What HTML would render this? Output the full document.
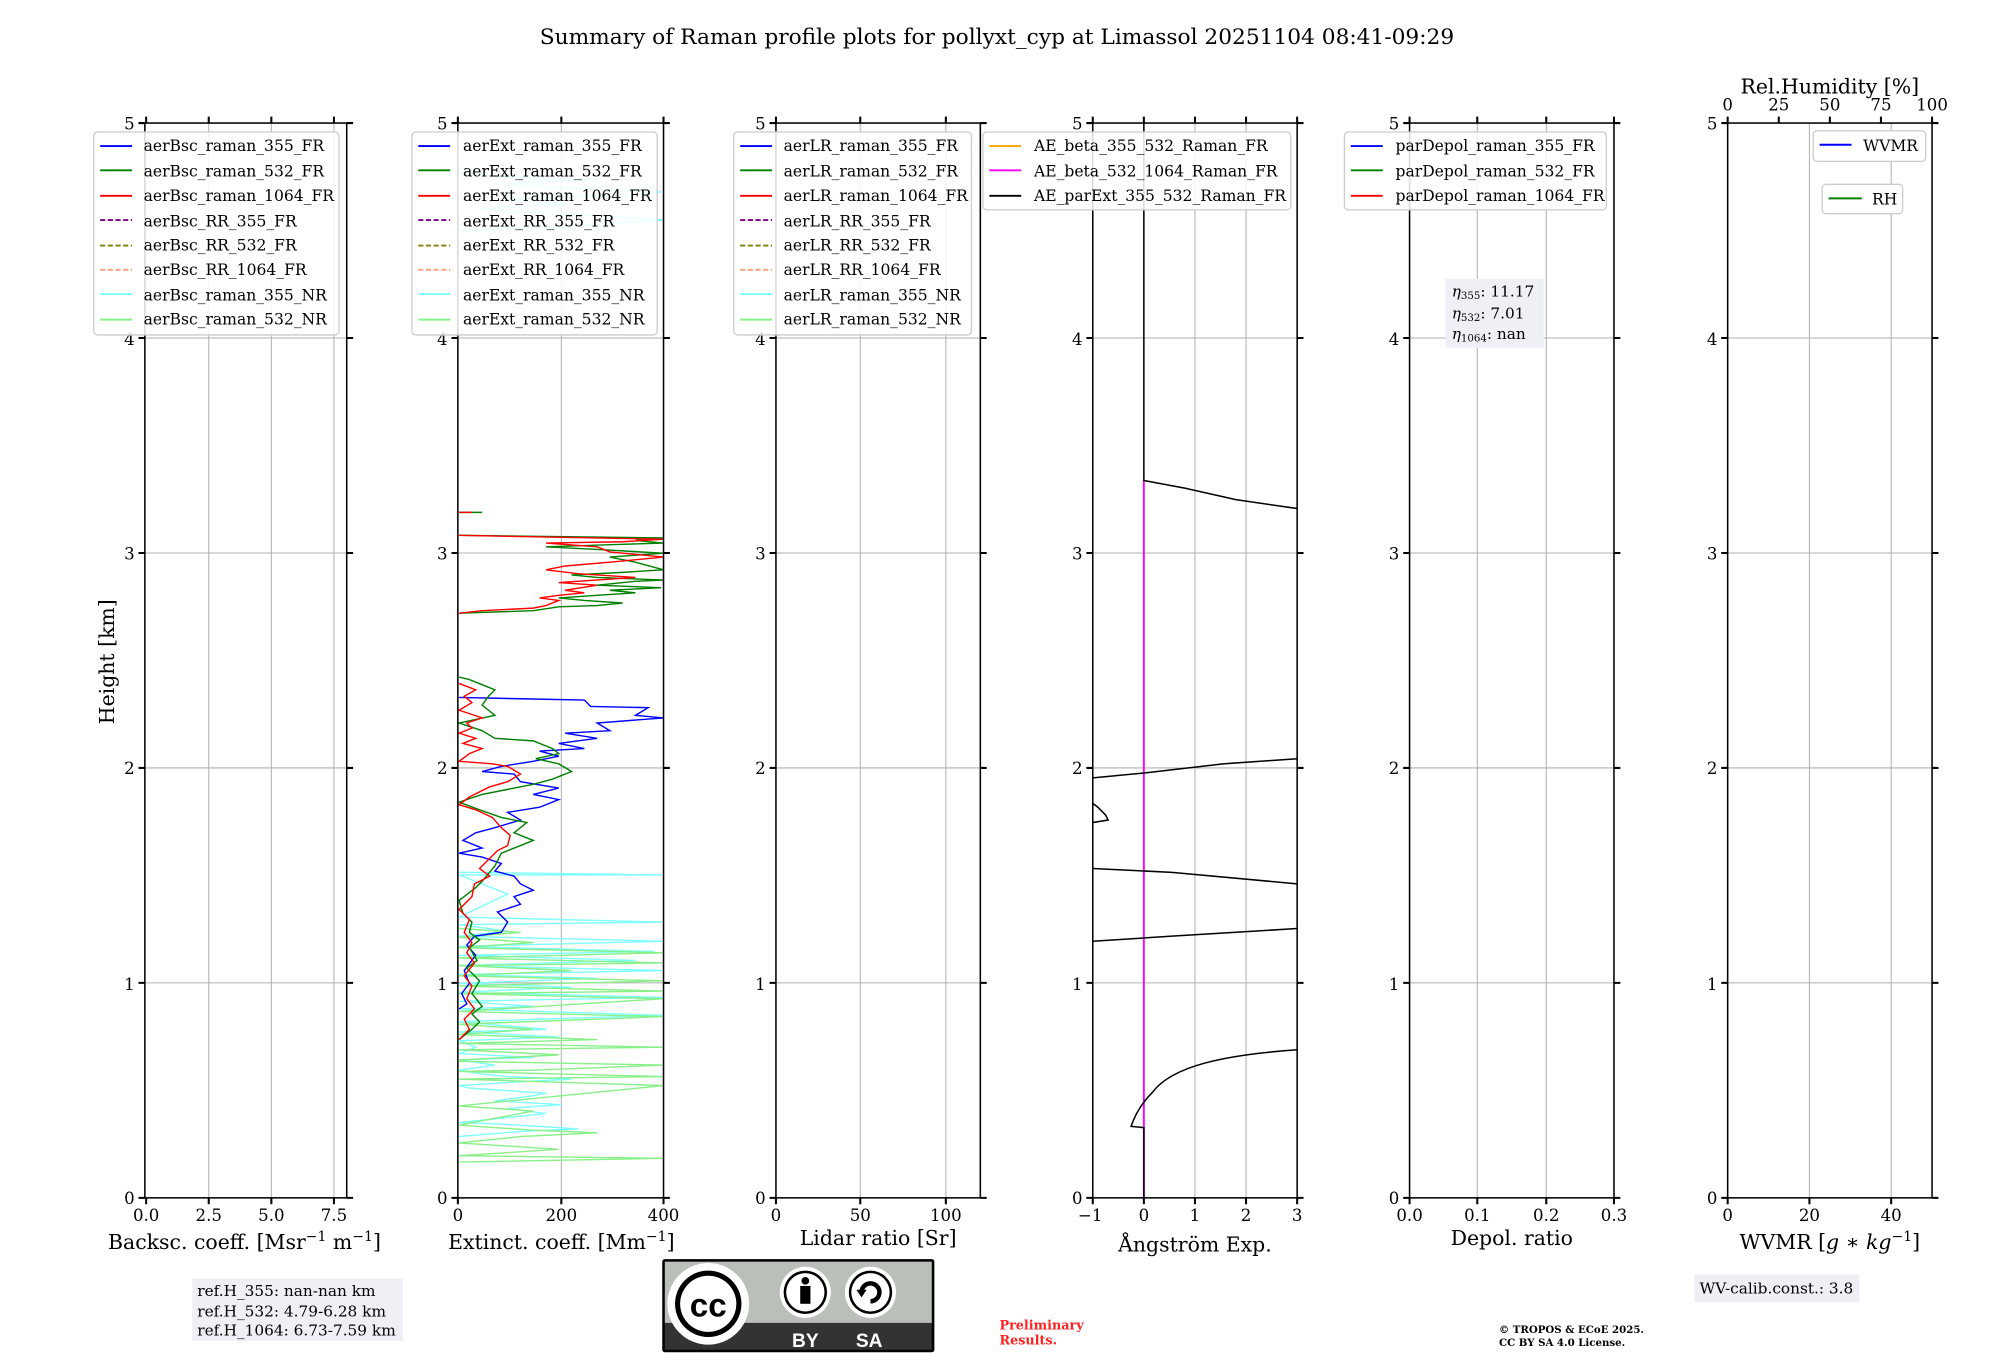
<!DOCTYPE html>
<html><head><meta charset="utf-8"><style>html,body{margin:0;padding:0;background:#fff}svg{display:block}text{font-family:"DejaVu Serif","Liberation Serif",serif;fill:#000}</style></head>
<body>
<svg width="2000" height="1360" viewBox="0 0 1560 1061" preserveAspectRatio="none" xmlns="http://www.w3.org/2000/svg">
<rect width="1560" height="1061" fill="#fff"/>
<g transform="matrix(0.99643,0,0,0.99584,-2.586,0.4)">
<text x="783" y="34" font-size="17" text-anchor="middle">Summary of Raman profile plots for pollyxt_cyp at Limassol 20251104 08:41-09:29</text>

<g stroke="#b0b0b0" stroke-width="0.8">
<path d="M116 769.6H274M116 601.2H274M116 432.8H274M116 264.4H274M166 96V938M215 96V938M264 96V938"/>
<path d="M361 769.6H522M361 601.2H522M361 432.8H522M361 264.4H522M442 96V938"/>
<path d="M610 769.6H770M610 601.2H770M610 432.8H770M610 264.4H770M676 96V938M743 96V938"/>
<path d="M858 769.6H1018M858 601.2H1018M858 432.8H1018M858 264.4H1018M898 96V938M938 96V938M978 96V938"/>
<path d="M1106 769.6H1266M1106 601.2H1266M1106 432.8H1266M1106 264.4H1266M1159 96V938M1213 96V938"/>
<path d="M1355 769.6H1515M1355 601.2H1515M1355 432.8H1515M1355 264.4H1515M1419 96V938M1483 96V938"/>
</g>

<g fill="none" stroke-width="1.1">
<polyline stroke="#7fffff" points="362,180 430,178 522,172 480,169 440,167 400,165 380,163 445,160 420,158 395,156 430,155 500,152 520,150 470,148 430,146 400,144 420,142 470,140 390,138 380,136 362,134"/>
<polyline stroke="#7fffff" points="362,890 410,886 455,884 425,882 390,880 362,879 430,872 400,868 442,865 390,862 420,858 430,856 400,854 370,852 362,850 410,847 450,845 400,843 380,841 362,838 390,834 362,830 420,828 362,825 375,820 362,815 440,812 400,810 362,808"/>
<polyline stroke="#7fffff" points="362,808 430,806 362,800 522,795 362,790 420,788 362,784 522,781 362,777 450,773 362,770 470,766 362,763 522,760 362,756 500,752 362,748 515,745 362,741 522,737 362,733 400,729 362,724 522,722 362,718 400,700 362,685 522,685 362,683"/>
<polyline stroke="#88f088" points="362,910 522,907 362,905 440,900 362,895 410,890 470,887 420,885 390,883 362,881 420,870 362,866 522,850 362,845 522,843 362,839 420,838 522,834 362,831"/>
<polyline stroke="#88f088" points="362,830 440,826 362,822 522,820 362,817 470,814 362,810 420,806 362,802 522,796 362,792 522,782 362,778 522,776 362,772 522,768 362,764 450,760 362,756 522,754 362,750 522,746 362,742 420,738 362,734 410,730 362,727"/>
<polyline stroke="#0000ff" points="362,790 368,786 364,778 370,770 366,760 375,748 368,740 374,733 395,730 400,722 392,714 410,708 405,702 420,697 410,692 405,686 390,682 395,676 380,671 362,668 380,664 365,658 375,652 390,648 410,642 400,636 425,632 440,626 420,622 440,617 410,612 405,606 380,604 395,600 420,596 440,592 425,588 460,586 440,582 470,578 445,574 480,572 470,566 522,562 500,560 510,554 465,553 460,548 410,547 362,546"/>
<polyline stroke="#008000" points="362,814 372,806 378,800 372,794 380,788 372,778 378,768 368,758 376,752 370,742 378,736 370,730 372,722 365,715 362,705 375,695 380,690 390,678 395,668 410,662 420,658 405,652 415,644 395,640 378,634 362,628 380,622 400,618 420,614 435,610 450,604 440,598 422,594 440,590 435,586 420,580 390,578 380,572 362,566 390,560 380,552 385,545 390,540 380,536 370,532 362,530"/>
<polyline stroke="#008000" points="362,480 420,478 440,475 470,474 490,472 460,470 440,468 470,466 500,464 480,462 520,460 470,458 500,455 522,454 470,452 450,450 490,448 522,446 500,440 480,436 522,433 470,430 430,428 490,426 522,425 500,423 522,421 362,419"/>
<polyline stroke="#008000" points="362,401 380,401"/>
<polyline stroke="#ff0000" points="362,814 370,806 366,798 374,790 368,782 372,772 366,764 374,754 368,746 372,738 366,730 370,720 362,712 372,702 374,692 386,686 378,680 386,672 392,666 400,662 402,654 395,648 388,640 375,634 362,630 370,624 386,616 400,612 410,606 400,600 388,598 362,596 370,590 380,586 365,582 375,578 362,574 372,570 368,566 380,562 362,556 372,550 366,545 375,540 362,535"/>
<polyline stroke="#ff0000" points="362,480 380,478 420,476 430,474 440,470 425,468 440,466 460,464 445,462 470,458 440,456 500,452 455,449 430,446 445,443 480,440 522,436 480,432 470,428 430,425 490,424 522,422 362,419"/>
<polyline stroke="#ff0000" points="362,401 372,401"/>
</g>

<g fill="none" stroke-width="1.2">
<line x1="898" y1="376" x2="898" y2="938" stroke="#ff00ff" stroke-width="1.5"/>
<polyline stroke="#000" points="898,96 898,376 930,382 970,391 1018,398"/>
<polyline stroke="#000" points="858,609 900,605 960,598 1018,594"/>
<polyline stroke="#000" points="858,629 862,632 868,638 870,642 858,644"/>
<polyline stroke="#000" points="858,680 920,683 1018,692"/>
<polyline stroke="#000" points="858,737 920,733 1018,727"/>
<path stroke="#000" d="M1018,822 C960,826 920,835 905,855 C898,862 892,870 888,882 L898,883 L898,938"/>
</g>

<g fill="none" stroke="#000" stroke-width="1.2">
<rect x="116" y="96" width="158" height="842"/>
<rect x="361" y="96" width="161" height="842"/>
<rect x="610" y="96" width="160" height="842"/>
<rect x="858" y="96" width="160" height="842"/>
<rect x="1106" y="96" width="160" height="842"/>
<rect x="1355" y="96" width="160" height="842"/>
</g>
<g stroke="#000" stroke-width="1.6">
<path d="M111 938H116M111 769.6H116M111 601.2H116M111 432.8H116M111 264.4H116M111 96H116M274 938H279M274 769.6H279M274 601.2H279M274 432.8H279M274 264.4H279M274 96H279"/>
<path d="M356 938H361M356 769.6H361M356 601.2H361M356 432.8H361M356 264.4H361M356 96H361M522 938H527M522 769.6H527M522 601.2H527M522 432.8H527M522 264.4H527M522 96H527"/>
<path d="M605 938H610M605 769.6H610M605 601.2H610M605 432.8H610M605 264.4H610M605 96H610M770 938H775M770 769.6H775M770 601.2H775M770 432.8H775M770 264.4H775M770 96H775"/>
<path d="M853 938H858M853 769.6H858M853 601.2H858M853 432.8H858M853 264.4H858M853 96H858M1018 938H1023M1018 769.6H1023M1018 601.2H1023M1018 432.8H1023M1018 264.4H1023M1018 96H1023"/>
<path d="M1101 938H1106M1101 769.6H1106M1101 601.2H1106M1101 432.8H1106M1101 264.4H1106M1101 96H1106M1266 938H1271M1266 769.6H1271M1266 601.2H1271M1266 432.8H1271M1266 264.4H1271M1266 96H1271"/>
<path d="M1350 938H1355M1350 769.6H1355M1350 601.2H1355M1350 432.8H1355M1350 264.4H1355M1350 96H1355M1515 938H1520M1515 769.6H1520M1515 601.2H1520M1515 432.8H1520M1515 264.4H1520M1515 96H1520"/>
<path d="M117 938V943M166 938V943M215 938V943M264 938V943M117 96V91M166 96V91M215 96V91M264 96V91"/>
<path d="M361 938V943M442 938V943M522 938V943M361 96V91M442 96V91M522 96V91"/>
<path d="M610 938V943M676 938V943M743 938V943M610 96V91M676 96V91M743 96V91"/>
<path d="M858 938V943M898 938V943M938 938V943M978 938V943M1018 938V943M858 96V91M898 96V91M938 96V91M978 96V91M1018 96V91"/>
<path d="M1106 938V943M1159 938V943M1213 938V943M1266 938V943M1106 96V91M1159 96V91M1213 96V91M1266 96V91"/>
<path d="M1355 938V943M1419 938V943M1483 938V943M1355 96V91M1395 96V91M1435 96V91M1475 96V91M1515 96V91"/>
</g>

<g font-size="13" text-anchor="end">
<text x="108" y="943">0</text><text x="108" y="775">1</text><text x="108" y="606">2</text><text x="108" y="438">3</text><text x="108" y="270">4</text><text x="108" y="101">5</text>
<text x="353" y="943">0</text><text x="353" y="775">1</text><text x="353" y="606">2</text><text x="353" y="438">3</text><text x="353" y="270">4</text><text x="353" y="101">5</text>
<text x="602" y="943">0</text><text x="602" y="775">1</text><text x="602" y="606">2</text><text x="602" y="438">3</text><text x="602" y="270">4</text><text x="602" y="101">5</text>
<text x="850" y="943">0</text><text x="850" y="775">1</text><text x="850" y="606">2</text><text x="850" y="438">3</text><text x="850" y="270">4</text><text x="850" y="101">5</text>
<text x="1098" y="943">0</text><text x="1098" y="775">1</text><text x="1098" y="606">2</text><text x="1098" y="438">3</text><text x="1098" y="270">4</text><text x="1098" y="101">5</text>
<text x="1347" y="943">0</text><text x="1347" y="775">1</text><text x="1347" y="606">2</text><text x="1347" y="438">3</text><text x="1347" y="270">4</text><text x="1347" y="101">5</text>
</g>
<g font-size="13" text-anchor="middle">
<text x="117" y="956">0.0</text><text x="166" y="956">2.5</text><text x="215" y="956">5.0</text><text x="264" y="956">7.5</text>
<text x="361" y="956">0</text><text x="442" y="956">200</text><text x="522" y="956">400</text>
<text x="856" y="956">−1</text><text x="898" y="956">0</text><text x="938" y="956">1</text><text x="978" y="956">2</text><text x="1018" y="956">3</text>
<text x="610" y="956">0</text><text x="676" y="956">50</text><text x="743" y="956">100</text>
<text x="1106" y="956">0.0</text><text x="1159" y="956">0.1</text><text x="1213" y="956">0.2</text><text x="1266" y="956">0.3</text>
<text x="1355" y="956">0</text><text x="1419" y="956">20</text><text x="1483" y="956">40</text>
<text x="1355" y="86">0</text><text x="1395" y="86">25</text><text x="1435" y="86">50</text><text x="1475" y="86">75</text><text x="1515" y="86">100</text>
</g>
<g font-size="16" text-anchor="middle">
<text x="194" y="978">Backsc. coeff. [Msr<tspan font-size="11" dy="-6">−1</tspan><tspan dy="6"> m</tspan><tspan font-size="11" dy="-6">−1</tspan><tspan dy="6">]</tspan></text>
<text x="442" y="978">Extinct. coeff. [Mm<tspan font-size="11" dy="-6">−1</tspan><tspan dy="6">]</tspan></text>
<text x="690" y="975">Lidar ratio [Sr]</text>
<text x="938" y="980">Ångström Exp.</text>
<text x="1186" y="975">Depol. ratio</text>
<text x="1435" y="978">WVMR [<tspan font-style="italic">g</tspan> ∗ <tspan font-style="italic">kg</tspan><tspan font-size="11" dy="-6">−1</tspan><tspan dy="6">]</tspan></text>
<text x="1435" y="73">Rel.Humidity [%]</text>
<text transform="translate(92,518) rotate(-90)">Height [km]</text>
</g>

<g font-size="12.2">
<rect x="76" y="103" width="192" height="159" rx="3" fill="#fff" fill-opacity="0.85" stroke="#ccc"/>
<g stroke-width="1.5">
<line x1="81" x2="106" y1="114" y2="114" stroke="#0000ff"/><line x1="81" x2="106" y1="133" y2="133" stroke="#008000"/><line x1="81" x2="106" y1="153" y2="153" stroke="#ff0000"/>
<line x1="81" x2="106" y1="172" y2="172" stroke="#800080" stroke-dasharray="4,2"/><line x1="81" x2="106" y1="192" y2="192" stroke="#808000" stroke-dasharray="4,2"/><line x1="81" x2="106" y1="211" y2="211" stroke="#ffa07a" stroke-dasharray="4,2"/>
<line x1="81" x2="106" y1="230" y2="230" stroke="#7fffff"/><line x1="81" x2="106" y1="250" y2="250" stroke="#88f088"/>
</g>
<text x="115" y="118">aerBsc_raman_355_FR</text><text x="115" y="138">aerBsc_raman_532_FR</text><text x="115" y="157">aerBsc_raman_1064_FR</text><text x="115" y="177">aerBsc_RR_355_FR</text><text x="115" y="196">aerBsc_RR_532_FR</text><text x="115" y="215">aerBsc_RR_1064_FR</text><text x="115" y="235">aerBsc_raman_355_NR</text><text x="115" y="254">aerBsc_raman_532_NR</text>

<rect x="325" y="103" width="192" height="159" rx="3" fill="#fff" fill-opacity="0.85" stroke="#ccc"/>
<g stroke-width="1.5">
<line x1="330" x2="355" y1="114" y2="114" stroke="#0000ff"/><line x1="330" x2="355" y1="133" y2="133" stroke="#008000"/><line x1="330" x2="355" y1="153" y2="153" stroke="#ff0000"/>
<line x1="330" x2="355" y1="172" y2="172" stroke="#800080" stroke-dasharray="4,2"/><line x1="330" x2="355" y1="192" y2="192" stroke="#808000" stroke-dasharray="4,2"/><line x1="330" x2="355" y1="211" y2="211" stroke="#ffa07a" stroke-dasharray="4,2"/>
<line x1="330" x2="355" y1="230" y2="230" stroke="#7fffff"/><line x1="330" x2="355" y1="250" y2="250" stroke="#88f088"/>
</g>
<text x="365" y="118">aerExt_raman_355_FR</text><text x="365" y="138">aerExt_raman_532_FR</text><text x="365" y="157">aerExt_raman_1064_FR</text><text x="365" y="177">aerExt_RR_355_FR</text><text x="365" y="196">aerExt_RR_532_FR</text><text x="365" y="215">aerExt_RR_1064_FR</text><text x="365" y="235">aerExt_raman_355_NR</text><text x="365" y="254">aerExt_raman_532_NR</text>

<rect x="577" y="103" width="186" height="159" rx="3" fill="#fff" fill-opacity="0.85" stroke="#ccc"/>
<g stroke-width="1.5">
<line x1="582" x2="607" y1="114" y2="114" stroke="#0000ff"/><line x1="582" x2="607" y1="133" y2="133" stroke="#008000"/><line x1="582" x2="607" y1="153" y2="153" stroke="#ff0000"/>
<line x1="582" x2="607" y1="172" y2="172" stroke="#800080" stroke-dasharray="4,2"/><line x1="582" x2="607" y1="192" y2="192" stroke="#808000" stroke-dasharray="4,2"/><line x1="582" x2="607" y1="211" y2="211" stroke="#ffa07a" stroke-dasharray="4,2"/>
<line x1="582" x2="607" y1="230" y2="230" stroke="#7fffff"/><line x1="582" x2="607" y1="250" y2="250" stroke="#88f088"/>
</g>
<text x="616" y="118">aerLR_raman_355_FR</text><text x="616" y="138">aerLR_raman_532_FR</text><text x="616" y="157">aerLR_raman_1064_FR</text><text x="616" y="177">aerLR_RR_355_FR</text><text x="616" y="196">aerLR_RR_532_FR</text><text x="616" y="215">aerLR_RR_1064_FR</text><text x="616" y="235">aerLR_raman_355_NR</text><text x="616" y="254">aerLR_raman_532_NR</text>

<rect x="772" y="103" width="241" height="61" rx="3" fill="#fff" fill-opacity="0.85" stroke="#ccc"/>
<g stroke-width="1.5">
<line x1="777" x2="802" y1="114" y2="114" stroke="#ffa500"/><line x1="777" x2="802" y1="133" y2="133" stroke="#ff00ff"/><line x1="777" x2="802" y1="153" y2="153" stroke="#000"/>
</g>
<text x="812" y="118">AE_beta_355_532_Raman_FR</text><text x="812" y="138">AE_beta_532_1064_Raman_FR</text><text x="812" y="157">AE_parExt_355_532_Raman_FR</text>

<rect x="1055" y="103" width="205" height="61" rx="3" fill="#fff" fill-opacity="0.85" stroke="#ccc"/>
<g stroke-width="1.5">
<line x1="1060" x2="1085" y1="114" y2="114" stroke="#0000ff"/><line x1="1060" x2="1085" y1="133" y2="133" stroke="#008000"/><line x1="1060" x2="1085" y1="153" y2="153" stroke="#ff0000"/>
</g>
<text x="1095" y="118">parDepol_raman_355_FR</text><text x="1095" y="138">parDepol_raman_532_FR</text><text x="1095" y="157">parDepol_raman_1064_FR</text>

<rect x="1422" y="102" width="88" height="24" rx="3" fill="#fff" stroke="#ccc"/>
<line x1="1427" x2="1452" y1="113" y2="113" stroke="#0000ff" stroke-width="1.5"/>
<text x="1461" y="118">WVMR</text>
<rect x="1429" y="144" width="63" height="23" rx="3" fill="#fff" stroke="#ccc"/>
<line x1="1434" x2="1460" y1="155" y2="155" stroke="#008000" stroke-width="1.5"/>
<text x="1468" y="160">RH</text>
</g>

<rect x="1134" y="218" width="77" height="54" fill="#eef0f5"/>
<g font-size="12">
<text x="1139" y="232"><tspan font-style="italic">η</tspan><tspan font-size="8" dy="2">355</tspan><tspan dy="-2">: 11.17</tspan></text>
<text x="1139" y="249"><tspan font-style="italic">η</tspan><tspan font-size="8" dy="2">532</tspan><tspan dy="-2">: 7.01</tspan></text>
<text x="1139" y="265"><tspan font-style="italic">η</tspan><tspan font-size="8" dy="2">1064</tspan><tspan dy="-2">: nan</tspan></text>
</g>

<rect x="153" y="1001" width="165" height="49" fill="#eef0f5"/>
<g font-size="12"><text x="157" y="1015">ref.H_355: nan-nan km</text><text x="157" y="1031">ref.H_532: 4.79-6.28 km</text><text x="157" y="1046">ref.H_1064: 6.73-7.59 km</text></g>
<rect x="1329" y="998" width="129" height="22" fill="#eef0f5"/>
<text x="1333" y="1013" font-size="12">WV-calib.const.: 3.8</text>
<text x="785" y="1041" font-size="10" font-weight="bold" style="fill:#ff2020">Preliminary</text>
<text x="785" y="1053" font-size="10" font-weight="bold" style="fill:#ff2020">Results.</text>
<text x="1176" y="1044" font-size="8" font-weight="bold">© TROPOS &amp; ECoE 2025.</text>
<text x="1176" y="1054" font-size="8" font-weight="bold">CC BY SA 4.0 License.</text>

<g>
<rect x="521" y="986" width="213" height="73" rx="2" fill="#000"/>
<rect x="523" y="988" width="209" height="48" fill="#bbbfba"/>
<rect x="523" y="1036" width="209" height="21" fill="#333"/>
<circle cx="557" cy="1021" r="32" fill="#fff"/>
<circle cx="557" cy="1021" r="26" fill="#000"/>
<circle cx="557" cy="1021" r="22" fill="#fff"/>
<text x="557" y="1031" font-size="26" font-weight="bold" text-anchor="middle" style="font-family:'Liberation Sans',sans-serif">cc</text>
<circle cx="633" cy="1012" r="20" fill="#fff"/><circle cx="633" cy="1012" r="17" fill="#000"/><circle cx="633" cy="1012" r="15" fill="#fff"/>
<circle cx="633" cy="1003" r="3" fill="#000"/><rect x="629" y="1007" width="8" height="14" fill="#000"/>
<circle cx="684" cy="1012" r="20" fill="#fff"/><circle cx="684" cy="1012" r="17" fill="#000"/><circle cx="684" cy="1012" r="15" fill="#fff"/>
<path d="M677 1012 A7 7 0 1 1 684 1019" fill="none" stroke="#000" stroke-width="3.5"/>
<path d="M673 1010 L681 1010 L677 1016 Z" fill="#000"/>
<text x="633" y="1055" font-size="15" font-weight="bold" text-anchor="middle" style="fill:#fff;font-family:'Liberation Sans',sans-serif">BY</text>
<text x="683" y="1055" font-size="15" font-weight="bold" text-anchor="middle" style="fill:#fff;font-family:'Liberation Sans',sans-serif">SA</text>
</g>
</g>
</svg>
</body></html>
